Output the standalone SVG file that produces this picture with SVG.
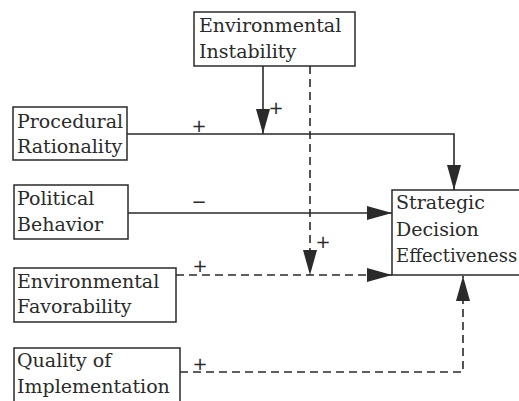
<svg xmlns="http://www.w3.org/2000/svg" width="519" height="401" viewBox="0 0 519 401">
<style>
.box{fill:#fff;stroke:#2a2a2a;stroke-width:1.5}
.t{font-family:"DejaVu Serif","Liberation Serif",serif;font-size:19px;fill:#2a2a2a}
.s{font-family:"DejaVu Sans","Liberation Sans",sans-serif;font-size:18px;fill:#2a2a2a;text-anchor:middle}
.ln{fill:none;stroke:#2a2a2a;stroke-width:1.6}
.d{stroke-dasharray:8 5}
</style>
<defs>
<marker id="ah" markerUnits="userSpaceOnUse" markerWidth="25" markerHeight="14" refX="25" refY="7" orient="auto">
<path d="M0,0 L25,7 L0,14 z" fill="#2a2a2a"/>
</marker>
</defs>
<rect width="519" height="401" fill="#fff"/>
<g id="connectors">
<polyline class="ln" points="127,134 454,134 454,190" marker-end="url(#ah)"/>
<line class="ln" x1="263" y1="66" x2="263" y2="134" marker-end="url(#ah)"/>
<line class="ln" x1="128" y1="213" x2="392" y2="213" marker-end="url(#ah)"/>
<line class="ln d" x1="310" y1="66" x2="310" y2="275" marker-end="url(#ah)"/>
<line class="ln d" x1="176" y1="275" x2="392" y2="275" marker-end="url(#ah)"/>
<polyline class="ln d" points="180,372 463,372 463,276" marker-end="url(#ah)"/>
<text class="s" x="199" y="132">+</text>
<text class="s" x="276" y="114">+</text>
<text class="s" x="199" y="208">−</text>
<text class="s" x="323" y="248">+</text>
<text class="s" x="200" y="272">+</text>
<text class="s" x="200" y="370">+</text>
</g>
<g id="env-instability">
<rect class="box" x="194" y="12" width="161" height="54"/>
<text class="t" x="199" y="32">Environmental</text>
<text class="t" x="199" y="58">Instability</text>
</g>
<g id="procedural-rationality">
<rect class="box" x="13" y="107" width="114" height="53"/>
<text class="t" x="17" y="128">Procedural</text>
<text class="t" x="17" y="153">Rationality</text>
</g>
<g id="political-behavior">
<rect class="box" x="14" y="185" width="114" height="54"/>
<text class="t" x="17" y="205">Political</text>
<text class="t" x="17" y="231">Behavior</text>
</g>
<g id="env-favorability">
<rect class="box" x="14" y="268" width="162" height="54"/>
<text class="t" x="17" y="288">Environmental</text>
<text class="t" x="17" y="313">Favorability</text>
</g>
<g id="quality-implementation">
<rect class="box" x="14" y="348" width="166" height="60"/>
<text class="t" x="17" y="367">Quality of</text>
<text class="t" x="17" y="393">Implementation</text>
</g>
<g id="strategic-decision">
<rect class="box" x="392" y="190" width="140" height="85"/>
<text class="t" x="396" y="209">Strategic</text>
<text class="t" x="396" y="236">Decision</text>
<text class="t" x="396" y="262" style="font-size:18px">Effectiveness</text>
</g>
</svg>
